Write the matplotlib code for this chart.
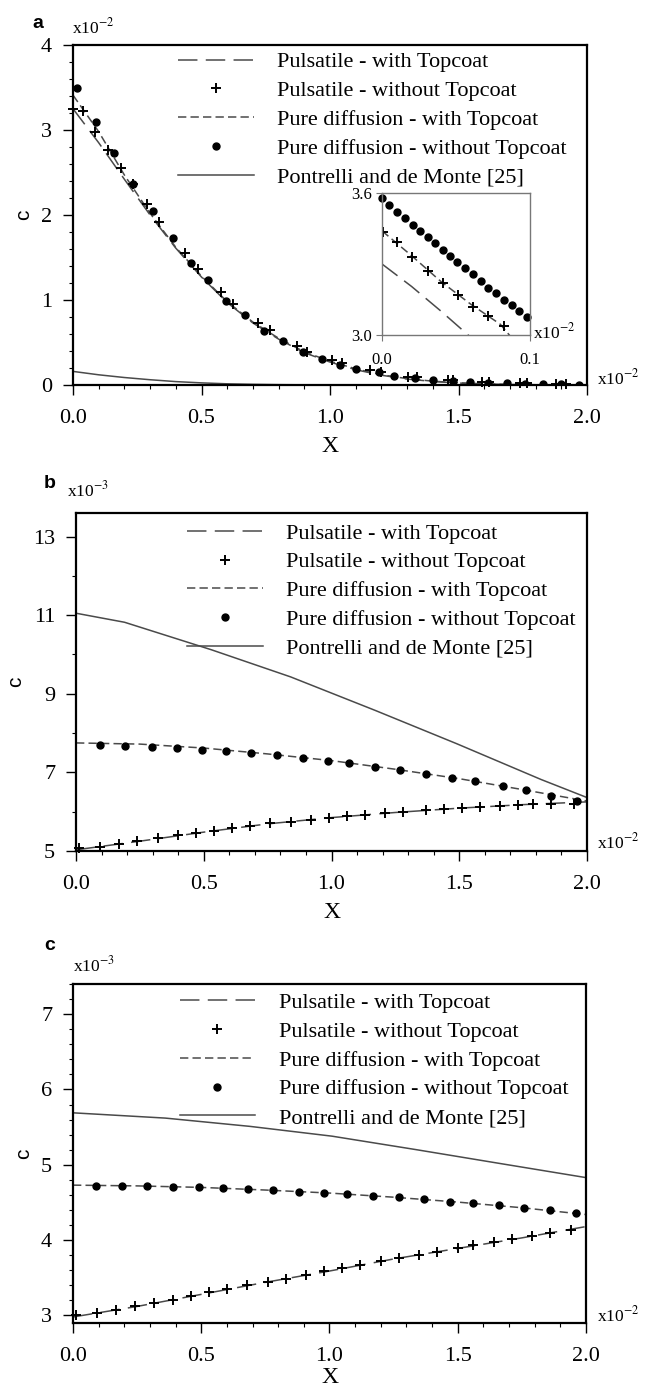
import numpy as np
import matplotlib
matplotlib.use("Agg")
import matplotlib.pyplot as plt
from matplotlib.ticker import MultipleLocator

plt.rcParams['font.family'] = ['Liberation Serif', 'DejaVu Serif']
plt.rcParams['mathtext.fontset'] = 'stix'
plt.rcParams['lines.scale_dashes'] = False

W, H = 645, 1391

labels = ["Pulsatile - with Topcoat", "Pulsatile - without Topcoat",
          "Pure diffusion - with Topcoat", "Pure diffusion - without Topcoat",
          "Pontrelli and de Monte [25]"]

# ---- panel a (x in 1e-2, c in 1e-2)
xa_line = [0.0, 0.1, 0.2, 0.3, 0.4, 0.5, 0.6, 0.7, 0.8, 0.9, 1.0,
           1.1, 1.2, 1.3, 1.4, 1.5, 1.6, 1.7, 1.8, 1.9, 2.0]
ya_puls_tc = [3.25, 2.85, 2.42, 2.00, 1.61, 1.27, 0.97, 0.73, 0.54, 0.38, 0.27,
              0.18, 0.115, 0.07, 0.042, 0.023, 0.012, 0.006, 0.003, 0.001, 0.0]
ya_diff_tc = [3.41, 2.98, 2.47, 2.02, 1.62, 1.28, 0.98, 0.74, 0.55, 0.39, 0.28,
              0.19, 0.12, 0.075, 0.045, 0.025, 0.013, 0.006, 0.003, 0.001, 0.0]
ya_pontrelli = [0.16, 0.12, 0.088, 0.062, 0.04, 0.025, 0.014, 0.008, 0.004, 0.002, 0.001,
                0.0, 0.0, 0.0, 0.0, 0.0, 0.0, 0.0, 0.0, 0.0, 0.0]
xa_plus = [0.0, 0.04, 0.086, 0.137, 0.187, 0.232, 0.287, 0.336, 0.436, 0.485, 0.575,
           0.621, 0.721, 0.767, 0.87, 0.912, 1.007, 1.045, 1.156, 1.20, 1.305, 1.337,
           1.46, 1.48, 1.59, 1.62, 1.74, 1.765, 1.88, 1.92]
ya_plus = [3.25, 3.22, 2.98, 2.77, 2.55, 2.36, 2.13, 1.92, 1.55, 1.36, 1.09,
           0.95, 0.73, 0.65, 0.46, 0.39, 0.29, 0.255, 0.176, 0.15, 0.098, 0.09,
           0.06, 0.055, 0.04, 0.035, 0.025, 0.022, 0.015, 0.012]
xa_dot = [0.014, 0.089, 0.161, 0.235, 0.31, 0.388, 0.459, 0.524, 0.594, 0.669, 0.744,
          0.818, 0.896, 0.968, 1.04, 1.10, 1.19, 1.25, 1.33, 1.40, 1.48, 1.545,
          1.616, 1.687, 1.76, 1.83, 1.90, 1.97]
ya_dot = [3.49, 3.10, 2.73, 2.37, 2.05, 1.73, 1.44, 1.23, 0.99, 0.82, 0.64,
          0.52, 0.39, 0.31, 0.24, 0.19, 0.15, 0.11, 0.08, 0.06, 0.045, 0.035,
          0.028, 0.02, 0.015, 0.01, 0.006, 0.003]

# ---- inset of panel a
xi_line_tc = [0.0, 0.02, 0.04, 0.06]
yi_line_tc = [3.30, 3.205, 3.10, 2.99]
xi_line_plus = [0.0, 0.02, 0.04, 0.06, 0.08, 0.09]
yi_line_plus = [3.44, 3.335, 3.225, 3.13, 3.045, 2.97]
xi_plus = [0.0005, 0.0099, 0.020, 0.0309, 0.041, 0.0511, 0.0617, 0.0718, 0.0824]
yi_plus = [3.434, 3.394, 3.331, 3.270, 3.218, 3.169, 3.12, 3.08, 3.038]
xi_dot = [0.0, 0.0049, 0.0104, 0.0155, 0.0207, 0.0257, 0.0309, 0.0358, 0.041, 0.046,
          0.051, 0.0563, 0.0617, 0.0667, 0.0718, 0.077, 0.0824, 0.0876, 0.0928, 0.0978]
yi_dot = [3.58, 3.549, 3.518, 3.493, 3.465, 3.441, 3.413, 3.387, 3.359, 3.334,
          3.307, 3.282, 3.258, 3.229, 3.200, 3.176, 3.148, 3.127, 3.103, 3.077]

# ---- panel b (c in 1e-3)
xbc_line = [0.0, 0.25, 0.5, 0.75, 1.0, 1.25, 1.5, 1.75, 2.0]
yb_puls_tc = [5.03, 5.25, 5.48, 5.69, 5.85, 5.98, 6.09, 6.18, 6.25]
yb_diff_tc = [7.75, 7.72, 7.62, 7.47, 7.30, 7.08, 6.84, 6.56, 6.27]
xb_pontrelli = [0.0, 0.19, 0.53, 0.84, 1.17, 1.49, 1.82, 2.0]
yb_pontrelli = [11.05, 10.82, 10.12, 9.43, 8.58, 7.73, 6.82, 6.36]
xb_plus = [0.01, 0.093, 0.17, 0.24, 0.32, 0.40, 0.47, 0.54, 0.61, 0.68, 0.76, 0.84,
           0.92, 0.99, 1.06, 1.13, 1.21, 1.28, 1.37, 1.44, 1.51, 1.58, 1.66, 1.73,
           1.79, 1.86, 1.95]
yb_plus = [5.07, 5.11, 5.19, 5.26, 5.32, 5.40, 5.47, 5.51, 5.58, 5.64, 5.70, 5.75,
           5.80, 5.84, 5.89, 5.92, 5.96, 6.00, 6.04, 6.07, 6.10, 6.12, 6.14, 6.17,
           6.19, 6.19, 6.19]
xb_dot = [0.093, 0.19, 0.297, 0.394, 0.495, 0.587, 0.685, 0.786, 0.887, 0.986,
          1.07, 1.17, 1.27, 1.37, 1.47, 1.56, 1.67, 1.76, 1.86, 1.96]
yb_dot = [7.69, 7.67, 7.64, 7.62, 7.58, 7.55, 7.50, 7.43, 7.36, 7.29,
          7.23, 7.14, 7.05, 6.95, 6.86, 6.77, 6.65, 6.54, 6.41, 6.28]

# ---- panel c (c in 1e-3)
yc_puls_tc = [2.98, 3.12, 3.28, 3.44, 3.59, 3.75, 3.89, 4.03, 4.18]
yc_diff_tc = [4.73, 4.72, 4.70, 4.665, 4.625, 4.57, 4.505, 4.43, 4.34]
xc_pontrelli = [0.0, 0.36, 0.69, 1.01, 1.34, 1.66, 2.0]
yc_pontrelli = [5.69, 5.62, 5.51, 5.38, 5.20, 5.02, 4.83]
xc_plus = [0.01, 0.094, 0.167, 0.24, 0.317, 0.39, 0.46, 0.53, 0.60, 0.68, 0.76, 0.83,
           0.91, 0.98, 1.05, 1.12, 1.20, 1.27, 1.35, 1.42, 1.50, 1.56, 1.64, 1.71,
           1.79, 1.86, 1.94]
yc_plus = [3.00, 3.03, 3.07, 3.12, 3.16, 3.21, 3.26, 3.31, 3.35, 3.40, 3.45, 3.49,
           3.54, 3.59, 3.63, 3.67, 3.72, 3.76, 3.80, 3.84, 3.89, 3.93, 3.97, 4.01,
           4.05, 4.09, 4.13]
xc_dot = [0.09, 0.19, 0.29, 0.39, 0.49, 0.585, 0.684, 0.78, 0.88, 0.98,
          1.07, 1.17, 1.27, 1.37, 1.47, 1.56, 1.66, 1.76, 1.86, 1.96]
yc_dot = [4.72, 4.72, 4.72, 4.71, 4.70, 4.69, 4.68, 4.66, 4.64, 4.63,
          4.61, 4.59, 4.57, 4.54, 4.51, 4.49, 4.46, 4.43, 4.40, 4.36]

LC = '#4a4a4a'
LONG = (0, (14, 6))
SHORT = (0, (6, 3))
TICK_FS = 16


def fig_box(x0, y0, x1, y1):
    return [x0 / W, 1 - y1 / H, (x1 - x0) / W, (y1 - y0) / H]


def style_axes(ax, ylim, yticks, yminor, xpad=6):
    ax.set_xlim(0, 2.0)
    ax.set_ylim(*ylim)
    ax.set_xticks([0, 0.5, 1.0, 1.5, 2.0])
    ax.set_xticklabels(['0.0', '0.5', '1.0', '1.5', '2.0'])
    ax.xaxis.set_minor_locator(MultipleLocator(0.1))
    ax.set_yticks(yticks)
    ax.set_yticklabels([str(t) for t in yticks])
    ax.yaxis.set_minor_locator(MultipleLocator(yminor))
    ax.tick_params(which='major', direction='out', length=7, width=1,
                   labelsize=TICK_FS, pad=8)
    ax.tick_params(axis='x', which='major', pad=10)
    ax.tick_params(which='minor', direction='out', length=3, width=0.8)
    for s in ax.spines.values():
        s.set_linewidth(1.6)
    ax.set_xlabel('X', fontsize=17, labelpad=xpad)
    ax.set_ylabel('c', fontsize=15, family=['Liberation Sans'], labelpad=6)


def add_legend(ax, anchor):
    h = [plt.Line2D([], [], color=LC, lw=1.1, ls=LONG),
         plt.Line2D([], [], color='black', ls='none', marker='+', ms=7, mew=1.4),
         plt.Line2D([], [], color=LC, lw=1.1, ls=SHORT),
         plt.Line2D([], [], color='black', ls='none', marker='o', ms=5),
         plt.Line2D([], [], color=LC, lw=1.1)]
    ax.legend(h, labels, loc='upper left', bbox_to_anchor=anchor, frameon=False,
              fontsize=16, handlelength=3.4, handletextpad=1.05, labelspacing=0.37,
              borderpad=0, borderaxespad=0, numpoints=1)


def plot_set(ax, xl, y_puls, y_diff, xp, yp, xplus, yplus, xdot, ydot):
    ax.plot(xl, y_puls, color=LC, lw=1.1, ls=LONG)
    ax.plot(xl, y_diff, color=LC, lw=1.1, ls=SHORT)
    ax.plot(xp, yp, color=LC, lw=1.1)
    ax.plot(xplus, yplus, ls='none', marker='+', ms=7, mew=1.4, color='black', clip_on=False)
    ax.plot(xdot, ydot, ls='none', marker='o', ms=5, color='black')


fig = plt.figure(figsize=(W / 100, H / 100), dpi=100)

# panel a
ax_a = fig.add_axes(fig_box(73, 45, 587, 385))
plot_set(ax_a, xa_line, ya_puls_tc, ya_diff_tc, xa_line, ya_pontrelli,
         xa_plus, ya_plus, xa_dot, ya_dot)
style_axes(ax_a, (0, 4), [0, 1, 2, 3, 4], 0.2)
add_legend(ax_a, (0.205, 0.98))

ax_i = fig.add_axes(fig_box(382, 193, 530, 335))
ax_i.plot(xi_line_tc, yi_line_tc, color=LC, lw=1.1, ls=LONG)
ax_i.plot(xi_line_plus, yi_line_plus, color=LC, lw=1.1, ls=SHORT)
ax_i.plot(xi_plus, yi_plus, ls='none', marker='+', ms=7, mew=1.4, color='black')
ax_i.plot(xi_dot, yi_dot, ls='none', marker='o', ms=5, color='black', clip_on=False)
ax_i.set_xlim(0, 0.1)
ax_i.set_ylim(3.0, 3.6)
ax_i.set_xticks([0, 0.1])
ax_i.set_xticklabels(['0.0', '0.1'])
ax_i.set_yticks([3.0, 3.6])
ax_i.set_yticklabels(['3.0', '3.6'])
ax_i.tick_params(direction='out', length=4, width=0.8, color='#777777',
                 labelsize=12, pad=3)
ax_i.tick_params(axis='x', pad=8)
for s in ax_i.spines.values():
    s.set_color('#777777')
    s.set_linewidth(1.0)

# panel b
ax_b = fig.add_axes(fig_box(76, 513, 587, 851))
plot_set(ax_b, xbc_line, yb_puls_tc, yb_diff_tc, xb_pontrelli, yb_pontrelli,
         xb_plus, yb_plus, xb_dot, yb_dot)
style_axes(ax_b, (5, 13.6), [5, 7, 9, 11, 13], 1)
add_legend(ax_b, (0.218, 0.97))

# panel c
ax_c = fig.add_axes(fig_box(73, 984, 586, 1323))
plot_set(ax_c, xbc_line, yc_puls_tc, yc_diff_tc, xc_pontrelli, yc_pontrelli,
         xc_plus, yc_plus, xc_dot, yc_dot)
style_axes(ax_c, (2.9, 7.4), [3, 4, 5, 6, 7], 0.2, xpad=1)
add_legend(ax_c, (0.208, 0.975))


def ftext(x, y, s, **kw):
    fig.text(x / W, 1 - y / H, s, **kw)


# panel letters and exponent notes
for lab, (lx, ly) in zip(['a', 'b', 'c'], [(32, 23), (44, 483), (44, 945)]):
    ftext(lx, ly, lab, fontsize=14, fontweight='bold', family=['Liberation Sans'],
          va='center', ha='left')
ftext(72, 27, r'x10$^{-2}$', fontsize=12.5, va='center')
ftext(67, 490, r'x10$^{-3}$', fontsize=12.5, va='center')
ftext(73, 965, r'x10$^{-3}$', fontsize=12.5, va='center')
ftext(597, 378, r'x10$^{-2}$', fontsize=12.5, va='center')
ftext(597, 842, r'x10$^{-2}$', fontsize=12.5, va='center')
ftext(597, 1315, r'x10$^{-2}$', fontsize=12.5, va='center')
ftext(533, 332, r'x10$^{-2}$', fontsize=12.5, va='center')

fig.savefig('out.png', dpi=100)
